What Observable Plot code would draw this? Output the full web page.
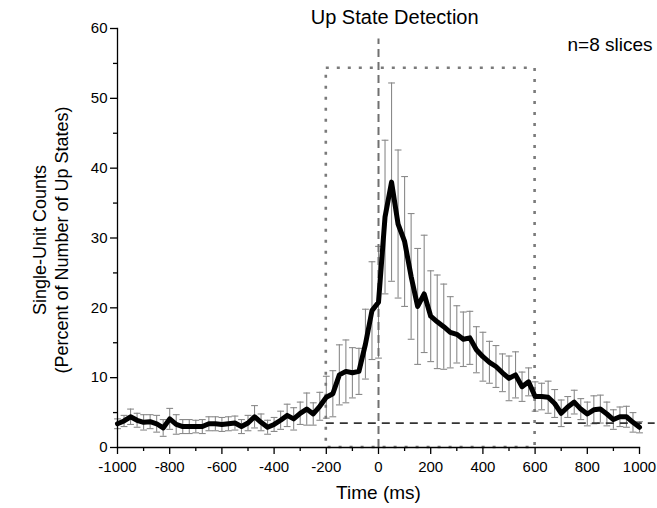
<!DOCTYPE html>
<html>
<head>
<meta charset="utf-8">
<script src="https://cdn.jsdelivr.net/npm/d3@7"></script>
<script src="https://cdn.jsdelivr.net/npm/@observablehq/plot@0.6"></script>
<style>
  html, body { margin: 0; padding: 0; background: #fff; }
</style>
</head>
<body>
<div id="chart"></div>
<script>
// Time bins (ms)
const times = [
  -1000, -975, -950, -925, -900, -875, -850, -825, -800, -775,
  -750, -725, -700, -675, -650, -625, -600, -575, -550, -525,
  -500, -475, -450, -425, -400, -375, -350, -325, -300, -275,
  -250, -225, -200, -175, -150, -125, -100, -75, -50, -25,
  0, 25, 50, 75, 100, 125, 150, 175, 200, 225,
  250, 275, 300, 325, 350, 375, 400, 425, 450, 475,
  500, 525, 550, 575, 600, 625, 650, 675, 700, 725,
  750, 775, 800, 825, 850, 875, 900, 925, 950, 975,
  1000
];
// Single-unit counts (% of number of up states)
const counts = [
  3.4, 3.8, 4.4, 3.9, 3.6, 3.7, 3.4, 2.8, 4.1, 3.3,
  3.0, 3.0, 3.0, 3.0, 3.4, 3.4, 3.3, 3.4, 3.5, 3.0,
  3.5, 4.4, 3.6, 2.9, 3.3, 3.9, 4.6, 4.1, 4.9, 5.5,
  4.8, 5.9, 7.2, 7.7, 10.4, 10.9, 10.7, 10.9, 14.8, 19.6,
  20.8, 33.0, 38.0, 32.0, 29.5, 24.5, 20.2, 22.0, 18.8, 18.0,
  17.3, 16.5, 16.2, 15.5, 15.7, 14.0, 13.0, 12.2, 11.6, 10.7,
  9.9, 10.4, 8.7, 9.4, 7.3, 7.3, 7.2, 6.3, 4.9, 5.8,
  6.5, 5.5, 4.8, 5.4, 5.5, 4.8, 4.0, 4.4, 4.4, 3.6,
  2.9
];
// Error (half-length of the error bars)
const errors = [
  0.7, 0.8, 1.1, 1.0, 1.1, 1.0, 1.2, 1.2, 1.5, 1.4,
  1.0, 1.0, 0.9, 1.0, 1.0, 1.0, 1.0, 1.0, 1.0, 1.0,
  1.1, 1.6, 1.2, 1.0, 1.0, 1.3, 1.6, 1.6, 1.6, 2.3,
  1.6, 2.0, 3.0, 3.3, 4.3, 4.5, 3.6, 3.3, 5.0, 7.0,
  8.0, 11.0, 14.2, 10.6, 9.3, 9.0, 8.3, 8.4, 6.5, 6.7,
  6.1, 5.1, 4.1, 3.9, 3.8, 3.3, 3.5, 3.0, 3.0, 2.7,
  3.2, 3.3, 2.1, 2.0, 2.1, 1.9, 2.3, 2.0, 1.9, 1.5,
  1.7, 1.5, 1.7, 2.0, 2.0, 1.7, 1.4, 1.4, 1.5, 1.4,
  0.8
];

// Tick values
const xTicks = [-1000, -800, -600, -400, -200, 0, 200, 400, 600, 800, 1000];
const xMinorTicks = [-900, -700, -500, -300, -100, 100, 300, 500, 700, 900];
const yTicks = [0, 10, 20, 30, 40, 50, 60];
const yMinorTicks = [5, 15, 25, 35, 45, 55];

// Annotation values
const windowBox = [{x1: -200, x2: 600, y1: 0, y2: 54.3}];
const detectionTime = [0];
const detectionLineTop = 58.5;
const baselineLevel = [3.5];
const baselineSpan = [-200, 1060];
const titleText = [{label: "Up State Detection", x: 62, y: 61.5}];
const noteText = [{label: "n=8 slices", x: 1050, y: 57.7}];

const rows = times.map((t, i) => ({t, v: counts[i], lo: counts[i] - errors[i], hi: counts[i] + errors[i]}));

const cap = {
  draw(context, size) {
    const r = Math.sqrt(size / Math.PI);
    context.moveTo(-r, 0);
    context.lineTo(r, 0);
  }
};

const errColor = "#8a8a8a";

const chart = Plot.plot({
  width: 657,
  height: 508,
  marginLeft: 117,
  marginRight: 18,
  marginTop: 28,
  marginBottom: 61,
  style: {fontFamily: "'Liberation Sans', Arial, sans-serif", fontSize: "15px", background: "#fff", color: "#000"},
  x: {domain: [-1000, 1000]},
  y: {domain: [0, 60]},
  marks: [
    // error bars
    Plot.ruleX(rows, {x: "t", y1: "lo", y2: "hi", stroke: errColor, strokeWidth: 1.1}),
    Plot.dot(rows, {x: "t", y: "hi", symbol: cap, r: 3.4, stroke: errColor, strokeWidth: 1.1, fill: "none"}),
    Plot.dot(rows, {x: "t", y: "lo", symbol: cap, r: 3.4, stroke: errColor, strokeWidth: 1.1, fill: "none"}),
    // dotted analysis window
    Plot.rect(windowBox, {x1: "x1", x2: "x2", y1: "y1", y2: "y2", fill: "none", stroke: "#7a7a7a", strokeWidth: 2.6, strokeDasharray: "3,8"}),
    // dashed detection line
    Plot.ruleX(detectionTime, {y1: 0, y2: detectionLineTop, stroke: "#707070", strokeWidth: 2, strokeDasharray: "8,5"}),
    // dashed baseline
    Plot.ruleY(baselineLevel, {x1: baselineSpan[0], x2: baselineSpan[1], stroke: "#333", strokeWidth: 1.8, strokeDasharray: "8,6", clip: false}),
    // main trace
    Plot.line(rows, {x: "t", y: "v", stroke: "#000", strokeWidth: 5, strokeLinejoin: "round", strokeLinecap: "round"}),
    // axes
    Plot.frame({anchor: "left", stroke: "#000", strokeWidth: 1.3}),
    Plot.frame({anchor: "bottom", stroke: "#000", strokeWidth: 1.3}),
    Plot.axisX({ticks: xTicks, tickSize: 7, tickPadding: 7, tickFormat: d => String(d), label: null, strokeWidth: 1.3, fontSize: 15}),
    Plot.axisX({ticks: xMinorTicks, tickSize: 4, tickFormat: () => "", label: null, strokeWidth: 1.3}),
    Plot.axisY({ticks: yTicks, tickSize: 7, tickPadding: 3, tickFormat: d => String(d), label: null, strokeWidth: 1.3, fontSize: 15}),
    Plot.axisY({ticks: yMinorTicks, tickSize: 4, tickFormat: () => "", label: null, strokeWidth: 1.3}),
    // axis titles
    Plot.text(["Time (ms)"], {frameAnchor: "bottom", dy: 45, fontSize: 19, lineAnchor: "middle", textAnchor: "middle"}),
    Plot.text(["Single-Unit Counts"], {frameAnchor: "left", dx: -77, dy: 2, rotate: -90, fontSize: 18, lineAnchor: "middle", textAnchor: "middle"}),
    Plot.text(["(Percent of Number of Up States)"], {frameAnchor: "left", dx: -55, dy: 2, rotate: -90, fontSize: 18, lineAnchor: "middle", textAnchor: "middle"}),
    // annotations
    Plot.text(titleText, {x: "x", y: "y", text: "label", fontSize: 20, clip: false}),
    Plot.text(noteText, {x: "x", y: "y", text: "label", fontSize: 19, textAnchor: "end", clip: false})
  ]
});

document.getElementById("chart").appendChild(chart);
</script>
</body>
</html>
